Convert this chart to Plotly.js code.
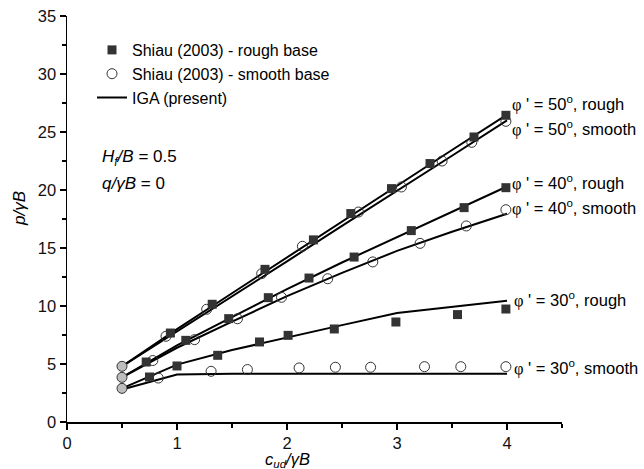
<!DOCTYPE html>
<html>
<head>
<meta charset="utf-8">
<script src="https://cdn.plot.ly/plotly-3.0.1.min.js"></script>
<style>html,body{margin:0;padding:0;background:#fff;}#chart{width:644px;height:469px;}</style>
</head>
<body>
<div id="chart"></div>
<script>
// ---- Data ----
// IGA (present) curves, sampled at lineX
const lineX = [0.5, 1, 1.5, 2, 2.5, 3, 3.5, 4];
const iga50Rough  = [4.8, 8.0, 11.1, 14.2, 17.3, 20.35, 23.45, 26.5];
const iga50Smooth = [4.8, 7.8, 10.85, 13.85, 16.9, 19.9, 22.95, 26.0];
const iga40Rough  = [3.85, 6.6, 9.05, 11.45, 13.75, 15.95, 18.1, 20.3];
const iga40Smooth = [3.85, 6.4, 8.65, 10.85, 12.85, 14.75, 16.4, 17.95];
const iga30Rough  = [2.9, 4.95, 6.2, 7.3, 8.35, 9.4, 9.95, 10.45];
const iga30Smooth = [2.8, 4.1, 4.15, 4.15, 4.15, 4.15, 4.15, 4.15];

// Shiau (2003) - rough base (filled squares)
const rough50X = [0.94, 1.32, 1.80, 2.24, 2.58, 2.95, 3.30, 3.70, 3.99];
const rough50Y = [7.67, 10.15, 13.16, 15.7, 17.97, 20.12, 22.28, 24.57, 26.44];
const rough40X = [0.72, 1.08, 1.47, 1.83, 2.20, 2.61, 3.13, 3.61, 3.99];
const rough40Y = [5.17, 7.04, 8.91, 10.72, 12.41, 14.22, 16.5, 18.48, 20.2];
const rough30X = [0.75, 1.00, 1.37, 1.75, 2.01, 2.43, 2.99, 3.55, 3.99];
const rough30Y = [3.88, 4.83, 5.75, 6.9, 7.47, 8.02, 8.62, 9.26, 9.74];

// Shiau (2003) - smooth base (open circles)
const smooth50X = [0.90, 1.27, 1.77, 2.14, 2.65, 3.04, 3.41, 3.68, 3.99];
const smooth50Y = [7.39, 9.72, 12.79, 15.15, 18.1, 20.26, 22.5, 24.11, 25.92];
const smooth40X = [0.78, 1.16, 1.55, 1.95, 2.37, 2.78, 3.21, 3.63, 3.99];
const smooth40Y = [5.3, 7.1, 8.9, 10.75, 12.35, 13.8, 15.4, 16.9, 18.3];
const smooth30X = [0.83, 1.31, 1.64, 2.11, 2.44, 2.76, 3.25, 3.58, 3.99];
const smooth30Y = [3.79, 4.37, 4.52, 4.66, 4.72, 4.72, 4.77, 4.77, 4.77];

// Coinciding rough/smooth results at c/γB = 0.5
const startX = [0.5, 0.5, 0.5];
const startY = [4.8, 3.85, 2.9];

// Curve labels
const labelText = [
  "φ ' = 50<sup>o</sup>, rough", "φ ' = 50<sup>o</sup>, smooth",
  "φ ' = 40<sup>o</sup>, rough", "φ ' = 40<sup>o</sup>, smooth",
  "φ ' = 30<sup>o</sup>, rough", "φ ' = 30<sup>o</sup>, smooth"
];
const xTicks = [0, 1, 2, 3, 4];
const yTicks = [0, 5, 10, 15, 20, 25, 30, 35];

// ---- Build ----
const SANS = "Liberation Sans, Arial, sans-serif";
const SERIF = "Liberation Serif, Times New Roman, serif";
const ink = "#000";
const markInk = "#333";

function phi(t){ return t.replace("φ", '<span style="font-family:' + SERIF + '">φ</span>'); }

const igaSets = [iga50Rough, iga50Smooth, iga40Rough, iga40Smooth, iga30Rough, iga30Smooth];
const traces = [];
igaSets.forEach((ys, i) => {
  traces.push({
    x: lineX, y: ys, type: "scatter", mode: "lines",
    name: "IGA (present)", legendgroup: "iga", showlegend: i === 0, legendrank: 3,
    line: {color: ink, width: 2}, hoverinfo: "skip"
  });
});
traces.push({
  x: [].concat(rough50X, rough40X, rough30X),
  y: [].concat(rough50Y, rough40Y, rough30Y),
  type: "scatter", mode: "markers", name: "Shiau (2003) - rough base", legendrank: 1,
  marker: {symbol: "square", size: 9, color: markInk, line: {width: 0}}
});
traces.push({
  x: [].concat(smooth50X, smooth40X, smooth30X),
  y: [].concat(smooth50Y, smooth40Y, smooth30Y),
  type: "scatter", mode: "markers", name: "Shiau (2003) - smooth base", legendrank: 2,
  marker: {symbol: "circle-open", size: 10, color: markInk, line: {width: 1, color: markInk}}
});
traces.push({
  x: startX, y: startY, type: "scatter", mode: "markers", showlegend: false,
  marker: {symbol: "circle", size: 10, color: "#bdbdbd", line: {width: 1, color: markInk}}
});

const FS = 16.5;
const labelPos = [[4.025, 27.47], [4.025, 25.3], [4.025, 20.69], [4.025, 18.53], [4.045, 10.55], [4.045, 4.72]];
const annotations = labelText.map((t, i) => ({
  text: phi(t), x: labelPos[i][0], y: labelPos[i][1], xref: "x", yref: "y",
  xanchor: "left", yanchor: "middle", showarrow: false,
  font: {family: SANS, size: FS, color: ink}
}));
annotations.push({
  text: "<i>H</i><sub><i>f</i></sub><i>/B</i> = 0.5", x: 0.30, y: 22.76, xref: "x", yref: "y",
  xanchor: "left", yanchor: "middle", showarrow: false, font: {family: SANS, size: 17, color: ink}
});
annotations.push({
  text: "<i>q/γB</i> = 0", x: 0.30, y: 20.6, xref: "x", yref: "y",
  xanchor: "left", yanchor: "middle", showarrow: false, font: {family: SANS, size: 17, color: ink}
});

// pixel-placed axis titles
const M = {l: 67, r: 82, t: 16, b: 47};
const W = 644, H = 469, pw = W - M.l - M.r, ph = H - M.t - M.b;
function px2paperX(px){ return (px - M.l) / pw; }
function px2paperY(py){ return (H - M.b - py) / ph; }
annotations.push({
  text: "<i>c</i><sub><i>ud</i></sub><i>/γB</i>", x: px2paperX(287), y: px2paperY(459.5),
  xref: "paper", yref: "paper", xanchor: "center", yanchor: "middle",
  showarrow: false, font: {family: SANS, size: 16.5, color: ink}
});
annotations.push({
  text: "<i>p/γB</i>", x: px2paperX(19), y: px2paperY(209), xref: "paper", yref: "paper",
  xanchor: "center", yanchor: "middle", textangle: -90,
  showarrow: false, font: {family: SANS, size: 17, color: ink}
});

const axisCommon = {
  showgrid: false, zeroline: false, showline: true, linecolor: ink, linewidth: 1.5,
  ticks: "outside", ticklen: 6, tickwidth: 1.5, tickcolor: ink,
  tickfont: {family: SANS, size: 16.5, color: "#111"}, fixedrange: true
};
const layout = {
  width: W, height: H, margin: M, paper_bgcolor: "#fff", plot_bgcolor: "#fff",
  font: {family: SANS, size: 17, color: ink},
  showlegend: true,
  legend: {x: px2paperX(92), y: px2paperY(33), xanchor: "left", yanchor: "top",
           bgcolor: "rgba(0,0,0,0)", borderwidth: 0, font: {family: SANS, size: 16, color: ink},
           tracegroupgap: 0},
  xaxis: Object.assign({}, axisCommon, {range: [0, 4.5], tickvals: xTicks,
           minor: {dtick: 0.5, ticks: "outside", ticklen: 4, tickwidth: 1.2, tickcolor: ink}}),
  yaxis: Object.assign({}, axisCommon, {range: [0, 35], tickvals: yTicks,
           minor: {dtick: 2.5, ticks: "outside", ticklen: 4, tickwidth: 1.2, tickcolor: ink}}),
  annotations: annotations
};
Plotly.newPlot("chart", traces, layout, {staticPlot: true, displayModeBar: false});
</script>
</body>
</html>
